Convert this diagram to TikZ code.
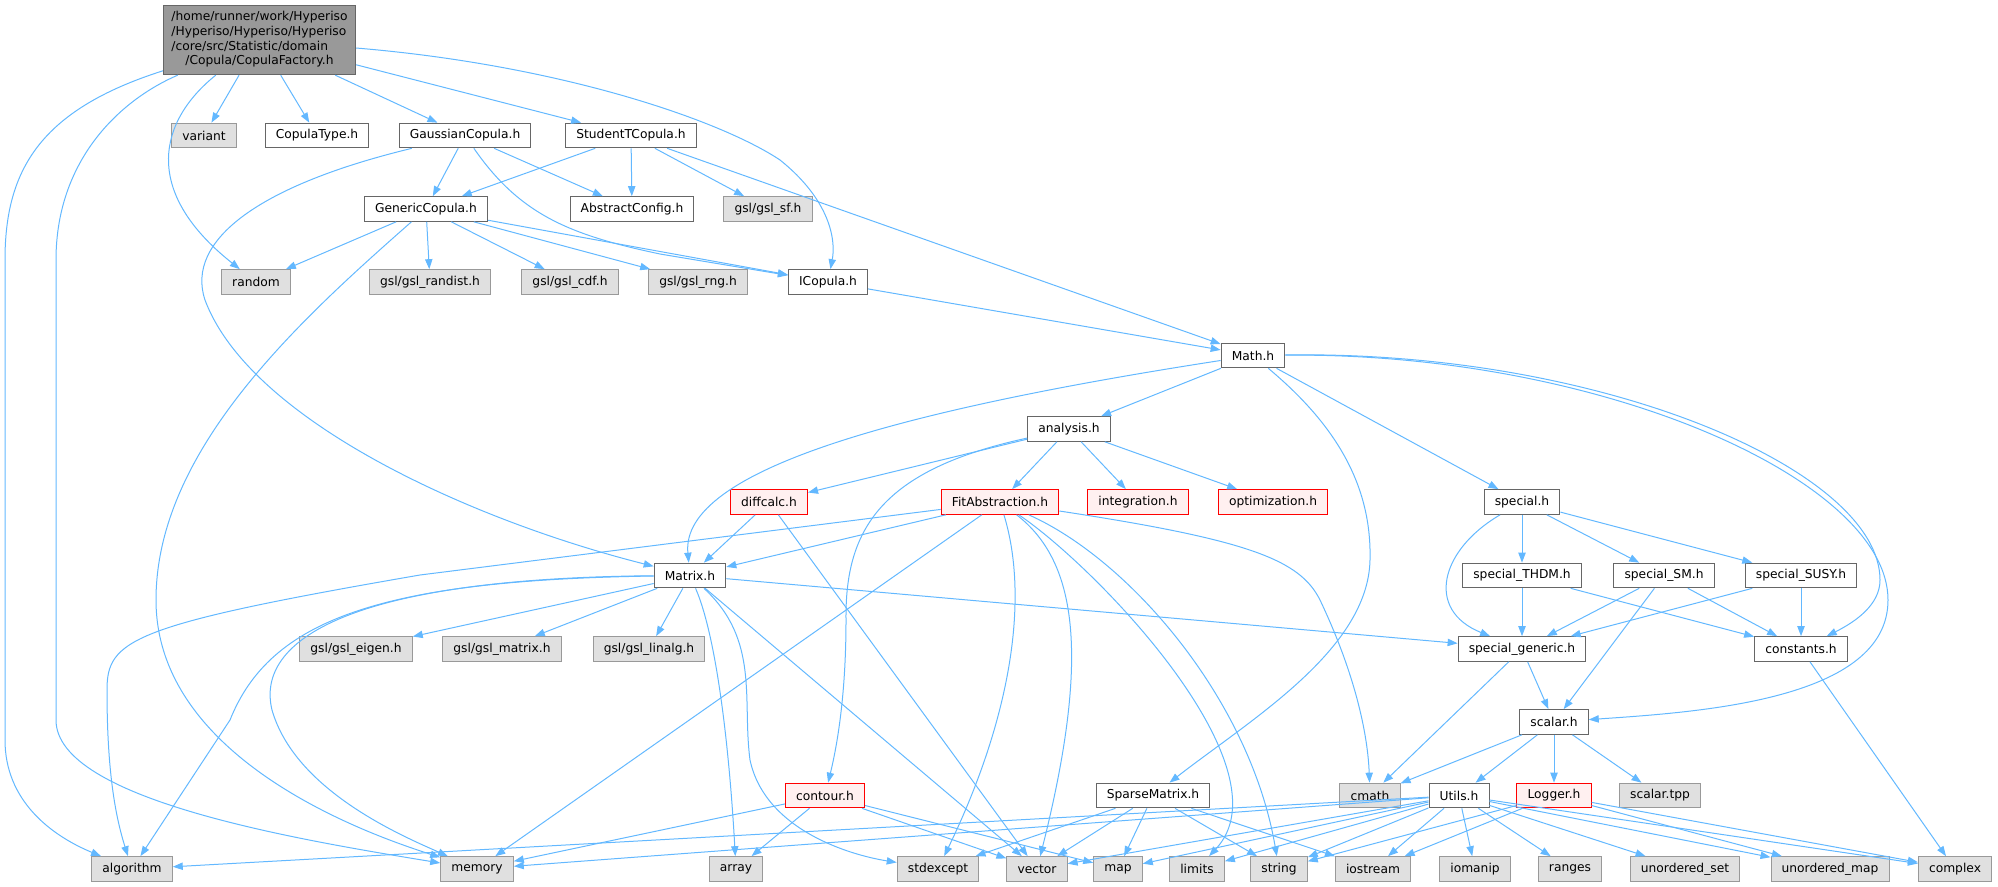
\documentclass[tikz,border=0pt]{standalone}
\usepackage{fontspec}
\setmainfont{DejaVu Sans}
\usetikzlibrary{arrows.meta}
\definecolor{edgeblue}{HTML}{63B8FF}
\definecolor{boxgray}{HTML}{666666}
\definecolor{sysgray}{HTML}{999999}
\definecolor{sysfill}{HTML}{E0E0E0}
\definecolor{truncfill}{HTML}{FFF0F0}
\begin{document}
\begin{tikzpicture}[x=0.75pt, y=-0.75pt,
  box/.style={draw, rectangle, line width=0.75pt, inner xsep=8pt, inner ysep=0pt,
    minimum height=18.5pt, font=\fontsize{9.2}{11}\selectfont},
  file/.style={box, draw=boxgray, fill=white},
  sys/.style={box, draw=sysgray, fill=sysfill},
  trunc/.style={box, draw=red, fill=truncfill},
  top/.style={box, draw=boxgray, fill=sysgray, inner xsep=6pt, inner ysep=4pt},
  dep/.style={draw=edgeblue, line width=0.75pt, -{Triangle[length=7.5pt,width=5.5pt]}}]
\useasboundingbox (0,0) rectangle (1998,887);
% the file itself
\node[top] (root) at (259.5,40) {\begin{tabular}{@{}l@{}}/home/runner/work/Hyperiso\\/Hyperiso/Hyperiso/Hyperiso\\/core/src/Statistic/domain\\\multicolumn{1}{@{}c@{}}{/Copula/CopulaFactory.h}\end{tabular}};
% copula headers
\node[sys] (variant) at (204,135.5) {variant};
\node[file] (ctype) at (317,135.5) {CopulaType.h};
\node[file] (gauss) at (465,135.5) {GaussianCopula.h};
\node[file] (studt) at (631,135.5) {StudentTCopula.h};
\node[file] (generic) at (426,209) {GenericCopula.h};
\node[file] (absconf) at (632,209) {AbstractConfig.h};
\node[sys] (gslsf) at (768,209) {gsl/gsl\_sf.h};
\node[sys] (random) at (256,282) {random};
\node[sys] (randist) at (430,282) {gsl/gsl\_randist.h};
\node[sys] (cdf) at (570,282) {gsl/gsl\_cdf.h};
\node[sys] (rng) at (698,282) {gsl/gsl\_rng.h};
\node[file] (icop) at (828,282) {ICopula.h};
% math headers
\node[file] (math) at (1253,355.5) {Math.h};
\node[file] (analysis) at (1069,429) {analysis.h};
\node[trunc] (diffcalc) at (769,502) {diffcalc.h};
\node[trunc] (fitabs) at (1000,502) {FitAbstraction.h};
\node[trunc] (integ) at (1138,502) {integration.h};
\node[trunc] (optim) at (1273,502) {optimization.h};
\node[file] (special) at (1522,502) {special.h};
\node[file] (matrix) at (690,575.5) {Matrix.h};
\node[file] (sthdm) at (1522,575.5) {special\_THDM.h};
\node[file] (ssm) at (1664,575.5) {special\_SM.h};
\node[file] (ssusy) at (1801,575.5) {special\_SUSY.h};
\node[sys] (eigen) at (356,649) {gsl/gsl\_eigen.h};
\node[sys] (gmatrix) at (502,649) {gsl/gsl\_matrix.h};
\node[sys] (linalg) at (649,649) {gsl/gsl\_linalg.h};
\node[file] (sgeneric) at (1522,649) {special\_generic.h};
\node[file] (consts) at (1801,649) {constants.h};
\node[file] (scalar) at (1554,722) {scalar.h};
\node[trunc] (contour) at (825,795.5) {contour.h};
\node[file] (sparse) at (1153,795.5) {SparseMatrix.h};
\node[sys] (cmath) at (1370,795.5) {cmath};
\node[file] (utils) at (1459,795.5) {Utils.h};
\node[trunc] (logger) at (1554,795.5) {Logger.h};
\node[sys] (stpp) at (1660,795.5) {scalar.tpp};
% standard headers
\node[sys] (algorithm) at (132,869) {algorithm};
\node[sys] (memory) at (477,869) {memory};
\node[sys] (array) at (736,869) {array};
\node[sys] (stdexcept) at (938,869) {stdexcept};
\node[sys] (vector) at (1037,869) {vector};
\node[sys] (map) at (1118,869) {map};
\node[sys] (limits) at (1197,869) {limits};
\node[sys] (string) at (1279,869) {string};
\node[sys] (iostream) at (1373,869) {iostream};
\node[sys] (iomanip) at (1475,869) {iomanip};
\node[sys] (ranges) at (1570,869) {ranges};
\node[sys] (uset) at (1685,869) {unordered\_set};
\node[sys] (umap) at (1830,869) {unordered\_map};
\node[sys] (complex) at (1955,869) {complex};
% CopulaFactory.h
\draw[dep] (root) .. controls (40,110) and (5,170) .. (5,260) -- (5,740) .. controls (5,800) and (50,835) .. (algorithm);
\draw[dep] (root) .. controls (120,100) and (56,160) .. (56,260) -- (56,720) .. controls (56,800) and (300,840) .. (memory);
\draw[dep] (root) .. controls (160,120) and (140,190) .. (random);
\draw[dep] (root) -- (variant);
\draw[dep] (root) -- (ctype);
\draw[dep] (root) -- (gauss);
\draw[dep] (root) -- (studt);
\draw[dep] (root) .. controls (560,65) and (720,120) .. (780,160) .. controls (830,200) and (836,240) .. (icop);
% GaussianCopula.h
\draw[dep] (gauss) -- (generic);
\draw[dep] (gauss) -- (absconf);
\draw[dep] (gauss) .. controls (520,215) and (570,235) .. (660,254) -- (icop);
\draw[dep] (gauss) .. controls (260,185) and (185,240) .. (205,300) .. controls (250,420) and (470,520) .. (matrix);
% StudentTCopula.h
\draw[dep] (studt) -- (generic);
\draw[dep] (studt) -- (absconf);
\draw[dep] (studt) -- (gslsf);
\draw[dep] (studt) -- (math);
% GenericCopula.h
\draw[dep] (generic) -- (random);
\draw[dep] (generic) -- (randist);
\draw[dep] (generic) -- (cdf);
\draw[dep] (generic) -- (rng);
\draw[dep] (generic) -- (icop);
\draw[dep] (generic) .. controls (300,320) and (156,450) .. (156,600) .. controls (156,760) and (370,835) .. (memory);
\draw[dep] (icop) -- (math);
% Math.h
\draw[dep] (math) -- (analysis);
\draw[dep] (math) .. controls (900,410) and (680,470) .. (matrix);
\draw[dep] (math) .. controls (1330,420) and (1372,480) .. (1370,560) .. controls (1368,650) and (1250,720) .. (sparse);
\draw[dep] (math) -- (special);
\draw[dep] (math) .. controls (1600,350) and (1880,470) .. (1880,580) .. controls (1880,605) and (1855,622) .. (consts);
\draw[dep] (math) .. controls (1600,352) and (1888,480) .. (1888,600) .. controls (1888,700) and (1700,712) .. (scalar);
% analysis.h
\draw[dep] (analysis) -- (diffcalc);
\draw[dep] (analysis) -- (fitabs);
\draw[dep] (analysis) -- (integ);
\draw[dep] (analysis) -- (optim);
\draw[dep] (analysis) .. controls (880,470) and (845,530) .. (846,620) .. controls (846,700) and (836,750) .. (contour);
\draw[dep] (diffcalc) -- (matrix);
\draw[dep] (diffcalc) -- (vector);
% FitAbstraction.h
\draw[dep] (fitabs) -- (matrix);
\draw[dep] (fitabs) -- (420,575) .. controls (130,625) and (107,640) .. (107,690) .. controls (107,770) and (115,815) .. (algorithm);
\draw[dep] (fitabs) -- (memory);
\draw[dep] (fitabs) .. controls (1030,600) and (1010,720) .. (stdexcept);
\draw[dep] (fitabs) .. controls (1075,560) and (1092,650) .. (vector);
\draw[dep] (fitabs) .. controls (1100,570) and (1290,770) .. (limits);
\draw[dep] (fitabs) .. controls (1130,560) and (1250,700) .. (string);
\draw[dep] (fitabs) .. controls (1250,540) and (1300,560) .. (1320,600) .. controls (1358,680) and (1368,740) .. (cmath);
% Matrix.h
\draw[dep] (matrix) .. controls (380,580) and (270,620) .. (230,720) -- (algorithm);
\draw[dep] (matrix) .. controls (350,578) and (255,640) .. (272,710) .. controls (295,790) and (400,835) .. (memory);
\draw[dep] (matrix) -- (eigen);
\draw[dep] (matrix) -- (gmatrix);
\draw[dep] (matrix) -- (linalg);
\draw[dep] (matrix) .. controls (718,640) and (730,760) .. (array);
\draw[dep] (matrix) .. controls (760,640) and (742,700) .. (750,760) .. controls (765,830) and (850,855) .. (stdexcept);
\draw[dep] (matrix) -- (vector);
\draw[dep] (matrix) -- (sgeneric);
% contour.h
\draw[dep] (contour) -- (memory);
\draw[dep] (contour) -- (array);
\draw[dep] (contour) -- (vector);
\draw[dep] (contour) -- (map);
% SparseMatrix.h
\draw[dep] (sparse) -- (stdexcept);
\draw[dep] (sparse) -- (vector);
\draw[dep] (sparse) -- (map);
\draw[dep] (sparse) -- (string);
\draw[dep] (sparse) -- (iostream);
% Utils.h
\draw[dep] (utils) -- (algorithm);
\draw[dep] (utils) -- (memory);
\draw[dep] (utils) -- (vector);
\draw[dep] (utils) -- (map);
\draw[dep] (utils) -- (limits);
\draw[dep] (utils) -- (string);
\draw[dep] (utils) -- (iostream);
\draw[dep] (utils) -- (iomanip);
\draw[dep] (utils) -- (ranges);
\draw[dep] (utils) -- (uset);
\draw[dep] (utils) -- (umap);
\draw[dep] (utils) -- (complex);
% Logger.h
\draw[dep] (logger) -- (iostream);
\draw[dep] (logger) -- (string);
\draw[dep] (logger) -- (umap);
\draw[dep] (logger) -- (complex);
% scalar.h and special headers
\draw[dep] (scalar) -- (cmath);
\draw[dep] (scalar) -- (utils);
\draw[dep] (scalar) -- (logger);
\draw[dep] (scalar) -- (stpp);
\draw[dep] (sgeneric) -- (cmath);
\draw[dep] (sgeneric) -- (scalar);
\draw[dep] (consts) -- (complex);
\draw[dep] (special) -- (sthdm);
\draw[dep] (special) -- (ssm);
\draw[dep] (special) -- (ssusy);
\draw[dep] (special) .. controls (1440,550) and (1425,610) .. (sgeneric);
\draw[dep] (sthdm) -- (sgeneric);
\draw[dep] (sthdm) -- (consts);
\draw[dep] (ssm) -- (sgeneric);
\draw[dep] (ssm) -- (consts);
\draw[dep] (ssm) -- (scalar);
\draw[dep] (ssusy) -- (sgeneric);
\draw[dep] (ssusy) -- (consts);
\end{tikzpicture}
\end{document}
